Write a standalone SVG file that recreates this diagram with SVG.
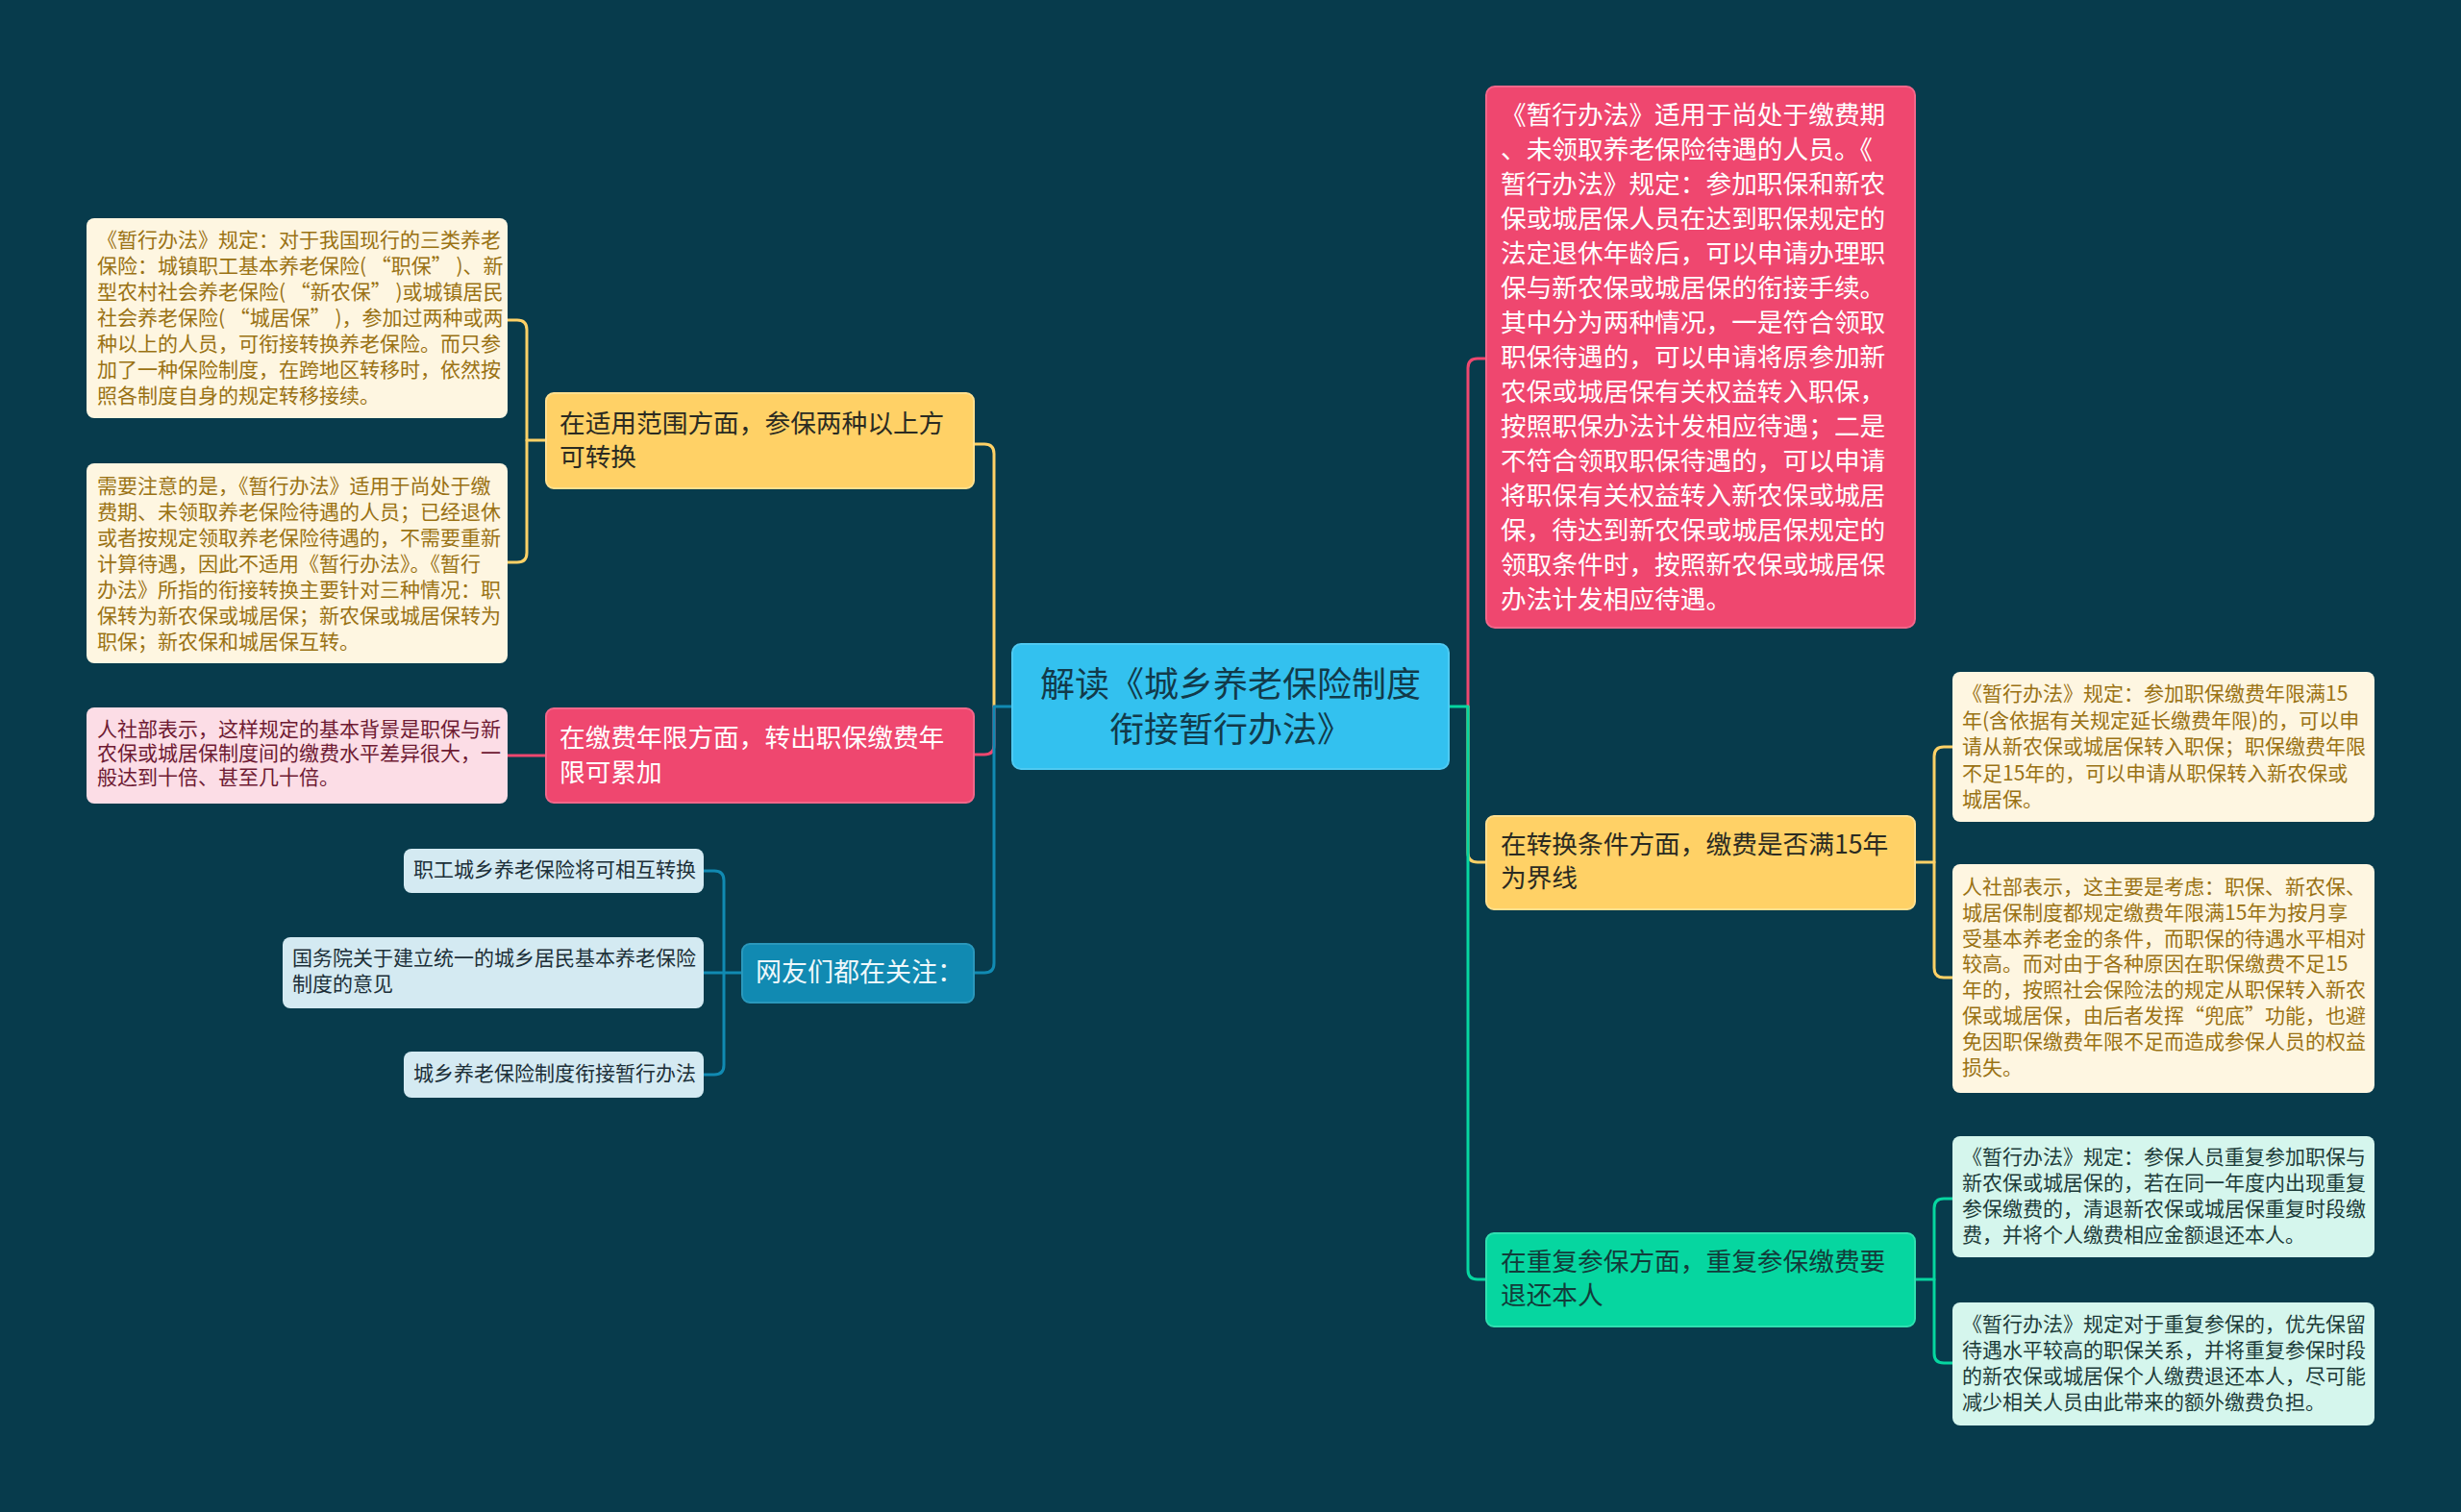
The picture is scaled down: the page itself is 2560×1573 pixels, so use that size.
<svg xmlns="http://www.w3.org/2000/svg" width="2560" height="1573" viewBox="0 0 2560 1573">
<style>
text{font-family:"Noto Sans CJK SC","Noto Sans",sans-serif;}
.c{fill:none;stroke-width:3;stroke-linecap:round;stroke-linejoin:round;}
.cy{stroke:#FFD166;}
.cr{stroke:#EF476F;}
.cb{stroke:#118AB2;}
.cg{stroke:#06D6A0;}
.root{fill:#33C1EF;stroke:#4fcaf2;stroke-width:2;}
.ry{fill:#FFD166;stroke:#ffe08f;stroke-width:2;}
.rr{fill:#EF476F;stroke:#f2668a;stroke-width:2;}
.rg{fill:#06D6A0;stroke:#30dfb0;stroke-width:2;}
.rb{fill:#118AB2;stroke:#2a98bc;stroke-width:2;}
.lc{fill:#FEF6E1;}
.lp{fill:#FCDDE6;}
.lm{fill:#D5F6ED;}
.lb{fill:#D4EAF2;}
.t36{font-size:36px;fill:#123a4a;}
.t27d{font-size:26.7px;fill:#2b2b22;}
.t27w{font-size:26.7px;fill:#ffffff;}
.t27g{font-size:26.7px;fill:#123c3a;}
.t27b{font-size:27px;fill:#eef8fb;}
.tc{font-size:21px;fill:#9a7214;}
.tp{font-size:21px;fill:#6e1b33;}
.tm{font-size:21px;fill:#1d3c3a;}
.tb{font-size:21px;fill:#1c2f38;}
</style>
<rect x="0" y="0" width="2560" height="1573" fill="#073B4C"/>

<g id="connectors">
<!-- left side -->
<path class="c cy" d="M1013 462 L1024 462 Q1034 462 1034 472 L1034 735"/>
<path class="c cr" d="M1013 785 L1024 785 Q1034 785 1034 775 L1034 735"/>
<path class="c cb" d="M1013 1012 L1024 1012 Q1034 1012 1034 1002 L1034 735 L1053 735"/>
<path class="c cy" d="M568 458 L548 458"/>
<path class="c cy" d="M528 333 L538 333 Q548 333 548 343 L548 575 Q548 585 538 585 L528 585"/>
<path class="c cr" d="M568 786 L528 786"/>
<path class="c cb" d="M772 1012 L732 1012"/>
<path class="c cb" d="M732 906 L743 906 Q753 906 753 916 L753 1108 Q753 1118 743 1118 L732 1118"/>
<!-- right side -->
<path class="c cr" d="M1527 735 L1527 383 Q1527 373 1537 373 L1546 373"/>
<path class="c cy" d="M1527 735 L1527 887 Q1527 897 1537 897 L1546 897"/>
<path class="c cg" d="M1507 735 L1527 735 L1527 1321 Q1527 1331 1537 1331 L1546 1331"/>
<path class="c cy" d="M1992 897 L2012 897"/>
<path class="c cy" d="M2031 777 L2022 777 Q2012 777 2012 787 L2012 1007 Q2012 1017 2022 1017 L2031 1017"/>
<path class="c cg" d="M1992 1331 L2012 1331"/>
<path class="c cg" d="M2031 1247 L2022 1247 Q2012 1247 2012 1257 L2012 1408 Q2012 1418 2022 1418 L2031 1418"/>
</g>

<g id="root">
<rect class="root" x="1053" y="670" width="454" height="130" rx="9"/>
<text class="t36" x="1280" y="725" text-anchor="middle">解读《城乡养老保险制度</text>
<text class="t36" x="1280" y="772" text-anchor="middle">衔接暂行办法》</text>
</g>

<g id="branch-scope">
<rect class="ry" x="568" y="409" width="445" height="99" rx="8"/>
<text class="t27d" x="582" y="450">在适用范围方面，参保两种以上方</text>
<text class="t27d" x="582" y="485">可转换</text>
</g>

<g id="leaf-scope-1">
<rect class="lc" x="90" y="227" width="438" height="208" rx="8"/>
<text class="tc" x="101" y="257">《暂行办法》规定：对于我国现行的三类养老</text>
<text class="tc" x="101" y="284">保险：城镇职工基本养老保险( “职保” )、新</text>
<text class="tc" x="101" y="311">型农村社会养老保险( “新农保” )或城镇居民</text>
<text class="tc" x="101" y="338">社会养老保险( “城居保” )，参加过两种或两</text>
<text class="tc" x="101" y="365">种以上的人员，可衔接转换养老保险。而只参</text>
<text class="tc" x="101" y="392">加了一种保险制度，在跨地区转移时，依然按</text>
<text class="tc" x="101" y="419">照各制度自身的规定转移接续。</text>
</g>

<g id="leaf-scope-2">
<rect class="lc" x="90" y="482" width="438" height="208" rx="8"/>
<text class="tc" x="101" y="513">需要注意的是，《暂行办法》适用于尚处于缴</text>
<text class="tc" x="101" y="540">费期、未领取养老保险待遇的人员；已经退休</text>
<text class="tc" x="101" y="567">或者按规定领取养老保险待遇的，不需要重新</text>
<text class="tc" x="101" y="594">计算待遇，因此不适用《暂行办法》。《暂行</text>
<text class="tc" x="101" y="621">办法》所指的衔接转换主要针对三种情况：职</text>
<text class="tc" x="101" y="648">保转为新农保或城居保；新农保或城居保转为</text>
<text class="tc" x="101" y="675">职保；新农保和城居保互转。</text>
</g>

<g id="branch-years">
<rect class="rr" x="568" y="737" width="445" height="98" rx="8"/>
<text class="t27w" x="582" y="777">在缴费年限方面，转出职保缴费年</text>
<text class="t27w" x="582" y="813">限可累加</text>
</g>

<g id="leaf-years">
<rect class="lp" x="90" y="736" width="438" height="100" rx="8"/>
<text class="tp" x="101" y="766">人社部表示，这样规定的基本背景是职保与新</text>
<text class="tp" x="101" y="791">农保或城居保制度间的缴费水平差异很大，一</text>
<text class="tp" x="101" y="816">般达到十倍、甚至几十倍。</text>
</g>

<g id="branch-related">
<rect class="rb" x="772" y="982" width="241" height="61" rx="8"/>
<text class="t27b" x="786" y="1021">网友们都在关注：</text>
</g>

<g id="related-1">
<rect class="lb" x="420" y="883" width="312" height="46" rx="8"/>
<text class="tb" x="430" y="912">职工城乡养老保险将可相互转换</text>
</g>

<g id="related-2">
<rect class="lb" x="294" y="975" width="438" height="74" rx="8"/>
<text class="tb" x="304" y="1004">国务院关于建立统一的城乡居民基本养老保险</text>
<text class="tb" x="304" y="1031">制度的意见</text>
</g>

<g id="related-3">
<rect class="lb" x="420" y="1094" width="312" height="48" rx="8"/>
<text class="tb" x="430" y="1124">城乡养老保险制度衔接暂行办法</text>
</g>

<g id="branch-apply">
<rect class="rr" x="1546" y="90" width="446" height="563" rx="9"/>
<text class="t27w" x="1561" y="129">《暂行办法》适用于尚处于缴费期</text>
<text class="t27w" x="1561" y="165">、未领取养老保险待遇的人员。《</text>
<text class="t27w" x="1561" y="201">暂行办法》规定：参加职保和新农</text>
<text class="t27w" x="1561" y="237">保或城居保人员在达到职保规定的</text>
<text class="t27w" x="1561" y="273">法定退休年龄后，可以申请办理职</text>
<text class="t27w" x="1561" y="309">保与新农保或城居保的衔接手续。</text>
<text class="t27w" x="1561" y="345">其中分为两种情况，一是符合领取</text>
<text class="t27w" x="1561" y="381">职保待遇的，可以申请将原参加新</text>
<text class="t27w" x="1561" y="417">农保或城居保有关权益转入职保，</text>
<text class="t27w" x="1561" y="453">按照职保办法计发相应待遇；二是</text>
<text class="t27w" x="1561" y="489">不符合领取职保待遇的，可以申请</text>
<text class="t27w" x="1561" y="525">将职保有关权益转入新农保或城居</text>
<text class="t27w" x="1561" y="561">保，待达到新农保或城居保规定的</text>
<text class="t27w" x="1561" y="597">领取条件时，按照新农保或城居保</text>
<text class="t27w" x="1561" y="633">办法计发相应待遇。</text>
</g>

<g id="branch-condition">
<rect class="ry" x="1546" y="849" width="446" height="97" rx="8"/>
<text class="t27d" x="1561" y="888">在转换条件方面，缴费是否满15年</text>
<text class="t27d" x="1561" y="923">为界线</text>
</g>

<g id="leaf-condition-1">
<rect class="lc" x="2031" y="699" width="439" height="156" rx="8"/>
<text class="tc" x="2041" y="729">《暂行办法》规定：参加职保缴费年限满15</text>
<text class="tc" x="2041" y="757">年(含依据有关规定延长缴费年限)的，可以申</text>
<text class="tc" x="2041" y="784">请从新农保或城居保转入职保；职保缴费年限</text>
<text class="tc" x="2041" y="812">不足15年的，可以申请从职保转入新农保或</text>
<text class="tc" x="2041" y="839">城居保。</text>
</g>

<g id="leaf-condition-2">
<rect class="lc" x="2031" y="899" width="439" height="238" rx="8"/>
<text class="tc" x="2041" y="930">人社部表示，这主要是考虑：职保、新农保、</text>
<text class="tc" x="2041" y="957">城居保制度都规定缴费年限满15年为按月享</text>
<text class="tc" x="2041" y="984">受基本养老金的条件，而职保的待遇水平相对</text>
<text class="tc" x="2041" y="1010">较高。而对由于各种原因在职保缴费不足15</text>
<text class="tc" x="2041" y="1037">年的，按照社会保险法的规定从职保转入新农</text>
<text class="tc" x="2041" y="1064">保或城居保，由后者发挥“兜底”功能，也避</text>
<text class="tc" x="2041" y="1091">免因职保缴费年限不足而造成参保人员的权益</text>
<text class="tc" x="2041" y="1118">损失。</text>
</g>

<g id="branch-repeat">
<rect class="rg" x="1546" y="1283" width="446" height="97" rx="8"/>
<text class="t27g" x="1561" y="1322">在重复参保方面，重复参保缴费要</text>
<text class="t27g" x="1561" y="1357">退还本人</text>
</g>

<g id="leaf-repeat-1">
<rect class="lm" x="2031" y="1182" width="439" height="126" rx="8"/>
<text class="tm" x="2041" y="1211">《暂行办法》规定：参保人员重复参加职保与</text>
<text class="tm" x="2041" y="1238">新农保或城居保的，若在同一年度内出现重复</text>
<text class="tm" x="2041" y="1265">参保缴费的，清退新农保或城居保重复时段缴</text>
<text class="tm" x="2041" y="1292">费，并将个人缴费相应金额退还本人。</text>
</g>

<g id="leaf-repeat-2">
<rect class="lm" x="2031" y="1355" width="439" height="128" rx="8"/>
<text class="tm" x="2041" y="1385">《暂行办法》规定对于重复参保的，优先保留</text>
<text class="tm" x="2041" y="1412">待遇水平较高的职保关系，并将重复参保时段</text>
<text class="tm" x="2041" y="1439">的新农保或城居保个人缴费退还本人，尽可能</text>
<text class="tm" x="2041" y="1466">减少相关人员由此带来的额外缴费负担。</text>
</g>
</svg>
